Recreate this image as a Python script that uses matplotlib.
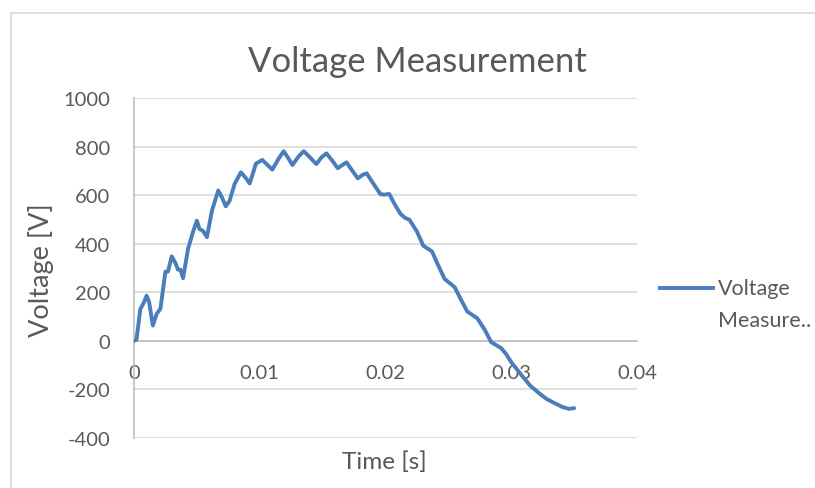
import matplotlib
matplotlib.use("Agg")
import matplotlib.pyplot as plt
from matplotlib.lines import Line2D
from matplotlib.patches import Rectangle

plt.rcParams['font.family'] = ['Lato', 'DejaVu Sans']

# ---- data ----
time_s = [0.0, 0.0002, 0.0005, 0.0008, 0.001, 0.0012, 0.0015, 0.0018, 0.0021,
          0.0025, 0.0027, 0.003, 0.0033, 0.0035, 0.0037, 0.0039, 0.0043, 0.0047,
          0.005, 0.0052, 0.0055, 0.0058, 0.0062, 0.0067, 0.007, 0.0073, 0.0076,
          0.008, 0.0085, 0.0089, 0.0092, 0.0097, 0.0102, 0.0106, 0.011, 0.0115,
          0.0119, 0.0123, 0.0126, 0.0131, 0.0135, 0.014, 0.0145, 0.0149, 0.0153,
          0.0158, 0.0162, 0.0166, 0.0169, 0.0173, 0.0178, 0.0182, 0.0185, 0.019,
          0.0196, 0.0199, 0.0203, 0.0207, 0.0212, 0.0216, 0.0219, 0.0225, 0.023,
          0.0237, 0.0242, 0.0247, 0.0255, 0.026, 0.0265, 0.0273, 0.0279, 0.0284,
          0.0292, 0.0296, 0.03, 0.0308, 0.0315, 0.0322, 0.0328, 0.0335, 0.0341,
          0.0346, 0.035]
voltage_v = [0, 5, 130, 160, 186, 160, 63, 111, 132,
             285, 285, 348, 320, 293, 293, 258, 379, 450,
             495, 461, 452, 427, 536, 619, 590, 554, 577,
             646, 694, 670, 648, 730, 745, 725, 705, 750,
             781, 750, 724, 760, 781, 755, 728, 755, 772,
             740, 711, 725, 735, 705, 669, 684, 690, 650,
             604, 602, 605, 565, 522, 505, 499, 450, 392,
             368, 310, 255, 221, 170, 121, 93, 45, -5,
             -30, -55, -88, -140, -184, -215, -239, -258, -273,
             -280, -277]
x_ticks = [0, 0.01, 0.02, 0.03, 0.04]
x_tick_labels = ["0", "0.01", "0.02", "0.03", "0.04"]
y_ticks = [-400, -200, 0, 200, 400, 600, 800, 1000]
y_tick_labels = ["-400", "-200", "0", "200", "400", "600", "800", "1000"]
series_name = "Voltage\nMeasure.."
title = "Voltage Measurement"
x_label = "Time [s]"
y_label = "Voltage [V]"

W, H = 815, 489
fig = plt.figure(figsize=(W / 100, H / 100), dpi=100)
fig.patch.set_facecolor("white")

text_color = "#595959"
line_color = "#4a7ebb"
grid_color = "#d9d9d9"
axis_color = "#bfbfbf"

# chart border
fig.add_artist(Rectangle((11 / W, -0.1), 1.2, 1 - 14 / H + 0.1,
                         transform=fig.transFigure, fill=False,
                         edgecolor=grid_color, linewidth=1.2))

ax = fig.add_axes([134 / W, 1 - 439 / H, (637 - 134) / W, (439 - 99) / H])
ax.plot(time_s, voltage_v, color=line_color, linewidth=2.8,
        solid_joinstyle="round", solid_capstyle="round", zorder=3)

ax.set_xlim(0, 0.04)
ax.set_ylim(-400, 1000)
ax.set_xticks(x_ticks)
ax.set_xticklabels(x_tick_labels)
ax.set_yticks(y_ticks)
ax.set_yticklabels(y_tick_labels)
ax.grid(axis="y", color=grid_color, linewidth=1.2, zorder=0)
ax.set_axisbelow(True)

for s in ["top", "right"]:
    ax.spines[s].set_visible(False)
ax.spines["left"].set_color(axis_color)
ax.spines["left"].set_linewidth(1.2)
ax.spines["bottom"].set_position(("data", 0))
ax.spines["bottom"].set_color(axis_color)
ax.spines["bottom"].set_linewidth(1.2)
ax.spines["bottom"].set_zorder(2)

ax.tick_params(axis="both", length=0, labelsize=14.5, labelcolor=text_color)
ax.tick_params(axis="x", pad=17)
ax.tick_params(axis="y", pad=17)

fig.text(417.5 / W, 1 - 72 / H, title, ha="center", va="baseline",
         fontsize=25, color=text_color)
fig.text(384 / W, 1 - 462 / H, x_label, ha="center", va="center",
         fontsize=17.5, color=text_color)
fig.text(41 / W, 1 - 270 / H, y_label, ha="center", va="center",
         rotation=90, fontsize=19.5, color=text_color)

# legend
fig.add_artist(Line2D([660 / W, 713 / W], [1 - 289 / H, 1 - 289 / H],
                      transform=fig.transFigure, color=line_color,
                      linewidth=2.8))
fig.text(718 / W, 1 - 289 / H, series_name.split("\n")[0], ha="left",
         va="center", fontsize=15.5, color=text_color)
fig.text(718 / W, 1 - 321 / H, series_name.split("\n")[1], ha="left",
         va="center", fontsize=15.5, color=text_color)

fig.savefig("out.png", dpi=100, facecolor="white")
